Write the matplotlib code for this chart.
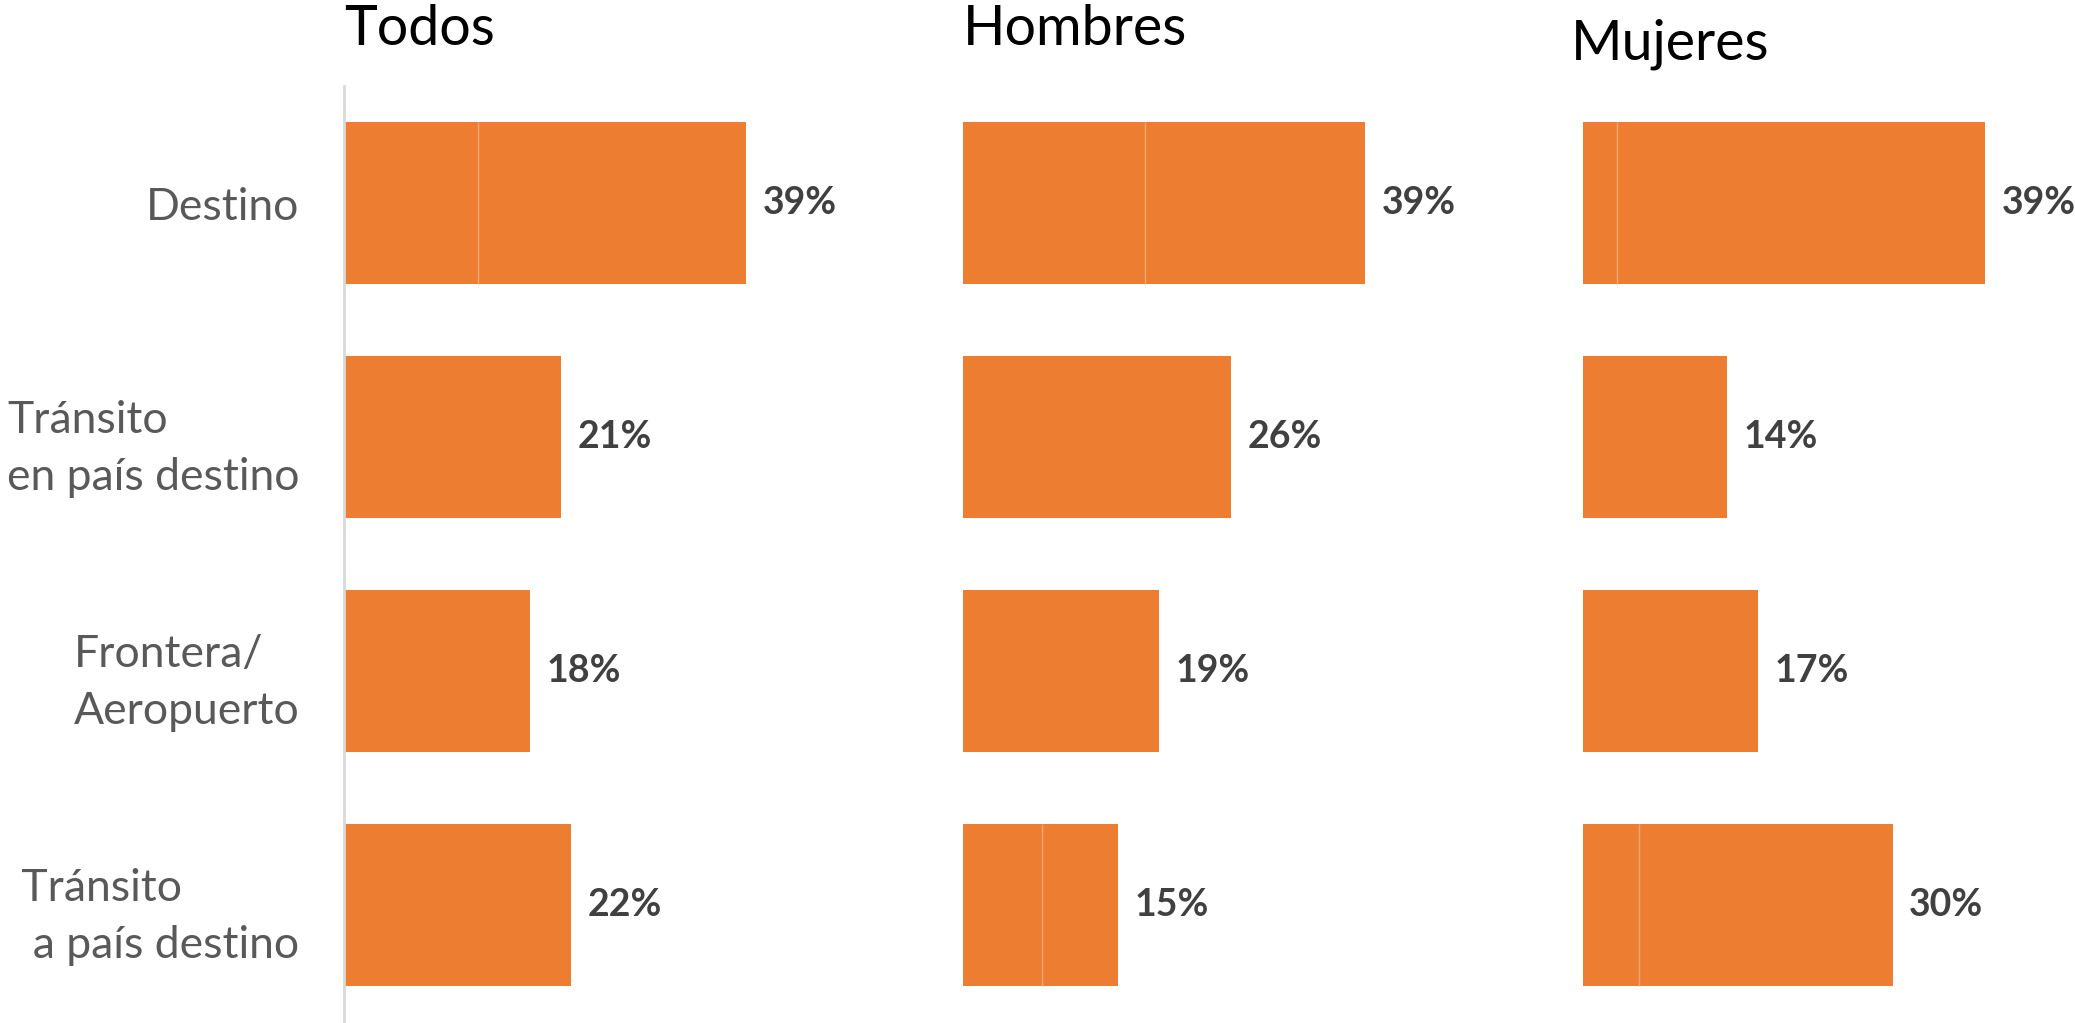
import matplotlib.pyplot as plt
import numpy as np

plt.rcParams['font.family'] = ['Lato', 'DejaVu Sans']

categories = ['Destino', 'Tránsito\nen país destino', 'Frontera/\nAeropuerto', ' Tránsito\n  a país destino']
groups = ['Todos', 'Hombres', 'Mujeres']
totals = {
    'Todos': [39, 21, 18, 22],
    'Hombres': [39, 26, 19, 15],
    'Mujeres': [39, 14, 17, 30],
}
# first stacked segment (faint seam inside some bars)
first_seg = {
    'Todos': [13, 21, 18, 22],
    'Hombres': [17.6, 26, 19, 7.7],
    'Mujeres': [3.3, 14, 17, 5.4],
}

orange = '#ED7D31'
fig = plt.figure(figsize=(20.75, 10.23), dpi=100)
W, H = 2075, 1023
lefts = [344, 963, 1583]
ax_w = 45 * 10.32
y_top, y_bot = 86, 1022
bh = 0.69

for i, g in enumerate(groups):
    ax = fig.add_axes([lefts[i] / W, 1 - y_bot / H, ax_w / W, (y_bot - y_top) / H])
    y = np.arange(len(categories))
    a = np.array(first_seg[g])
    t = np.array(totals[g])
    ax.barh(y, a, height=bh, color=orange, linewidth=0)
    ax.barh(y, t - a, left=a, height=bh, color=orange, linewidth=0)
    # faint seam between segments
    m = a < t
    ax.vlines(a[m], y[m] - bh / 2, y[m] + bh / 2, color='#F2A671', linewidth=1)
    for yy, v in zip(y, t):
        ax.text(v + 1.6, yy, f'{v}%', va='center', ha='left', fontsize=27,
                fontweight='bold', color='#404040', clip_on=False)
    ax.set_xlim(0, 45)
    ax.set_ylim(3.5, -0.5)
    ax.set_xticks([])
    for s in ['top', 'right', 'bottom']:
        ax.spines[s].set_visible(False)
    if i == 0:
        ax.spines['left'].set_color('#D9D9D9')
        ax.spines['left'].set_linewidth(2)
        ax.set_yticks(y)
        ax.set_yticklabels(categories, fontsize=32, color='#595959',
                           multialignment='left', linespacing=1.5)
        ax.tick_params(axis='y', length=0, pad=32)
    else:
        ax.spines['left'].set_visible(False)
        ax.set_yticks([])
    ty = 0.957 if g == 'Mujeres' else 0.971
    xoff = -12 if g == 'Mujeres' else 0
    fig.text((lefts[i] + xoff) / W, ty, g, fontsize=40, color='black', va='center', ha='left')

fig.savefig('out.png', dpi=100)
